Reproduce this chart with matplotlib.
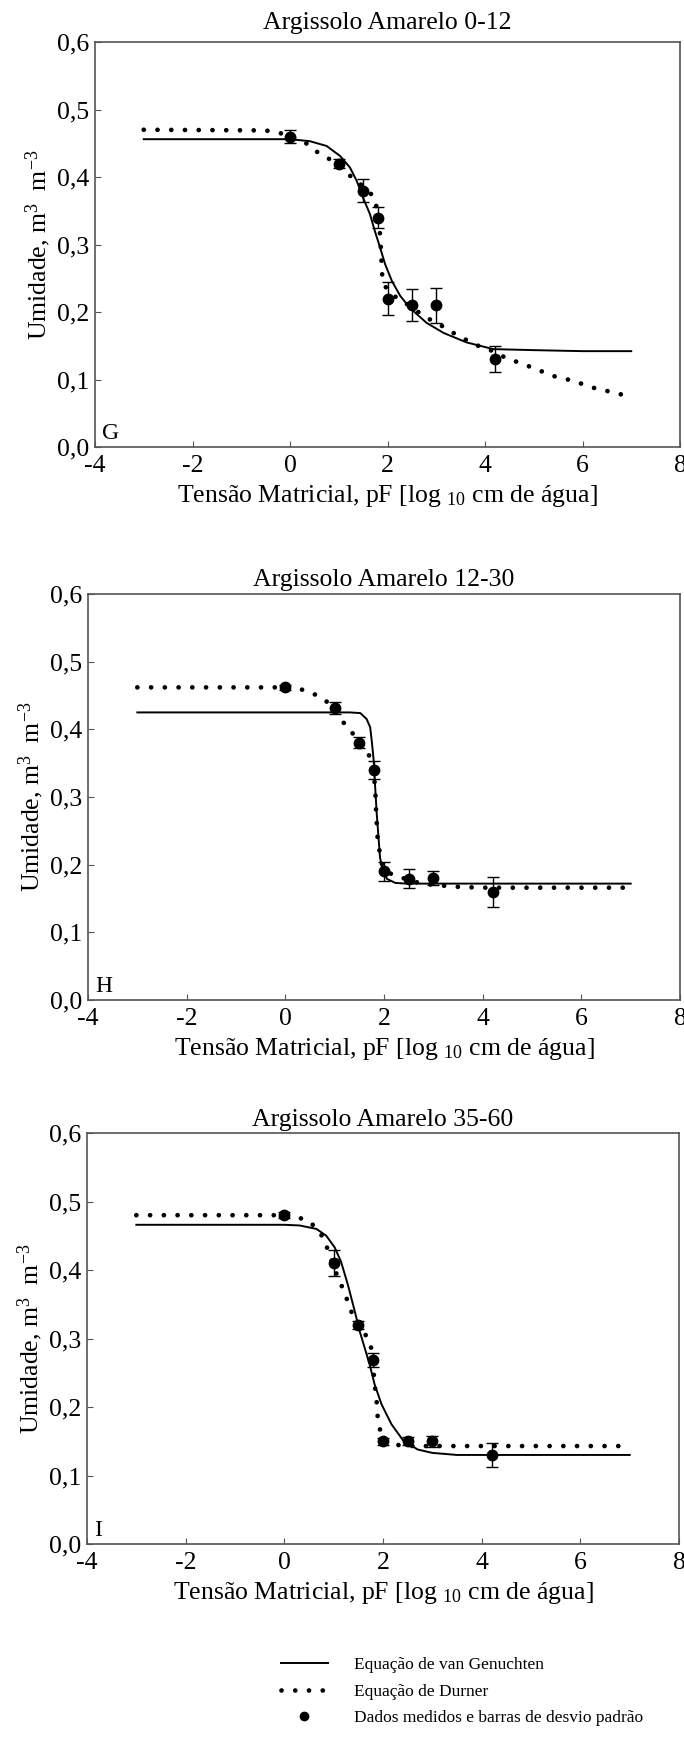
import numpy as np
import matplotlib
matplotlib.use("Agg")
import matplotlib.pyplot as plt
from matplotlib.lines import Line2D
from matplotlib.ticker import FuncFormatter

plt.rcParams['font.family'] = ['Liberation Serif', 'DejaVu Serif']
plt.rcParams['mathtext.fontset'] = 'custom'
plt.rcParams['mathtext.rm'] = 'Liberation Serif'
plt.rcParams['mathtext.it'] = 'Liberation Serif:italic'

# measured data (pF, theta, sd)
pf_meas = [0, 1, 1.5, 1.8, 2, 2.5, 3, 4.2]

g_theta = [0.46, 0.42, 0.38, 0.34, 0.22, 0.21, 0.21, 0.13]
g_sd = [0.009, 0.006, 0.017, 0.016, 0.024, 0.024, 0.026, 0.019]
h_theta = [0.462, 0.432, 0.38, 0.34, 0.19, 0.179, 0.18, 0.16]
h_sd = [0.004, 0.009, 0.008, 0.0135, 0.0145, 0.014, 0.010, 0.022]
i_theta = [0.48, 0.41, 0.32, 0.269, 0.15, 0.15, 0.15, 0.13]
i_sd = [0.004, 0.019, 0.006, 0.010, 0.005, 0.006, 0.008, 0.017]

# fitted curves
g_vg_x = [-3, 0, 0.41, 0.75, 1.03, 1.23, 1.37, 1.5, 1.64, 1.74, 1.85, 1.95, 2.09,
          2.26, 2.46, 2.8, 3.15, 3.62, 4.17, 5, 6, 7]
g_vg_y = [0.456, 0.456, 0.453, 0.446, 0.431, 0.414, 0.394, 0.369, 0.345, 0.32, 0.295,
          0.271, 0.246, 0.224, 0.206, 0.184, 0.169, 0.155, 0.145, 0.1435, 0.142, 0.142]
g_du_x = [-3, -0.5, -0.2, 0.17, 0.38, 0.56, 0.75, 0.99, 1.16, 1.37, 1.55, 1.74, 1.81,
          1.85, 1.87, 1.89, 1.92, 2.07, 2.28, 2.46, 2.67, 2.87, 3.08, 3.28, 3.47, 3.66,
          3.86, 4.07, 4.43, 4.85, 5.41, 5.81, 6.21, 6.62, 6.9]
g_du_y = [0.470, 0.469, 0.465, 0.456, 0.448, 0.437, 0.429, 0.419, 0.406, 0.394, 0.383,
          0.369, 0.340, 0.313, 0.285, 0.256, 0.241, 0.227, 0.217, 0.209, 0.198, 0.189,
          0.181, 0.172, 0.164, 0.157, 0.150, 0.145, 0.132, 0.121, 0.105, 0.098, 0.088,
          0.081, 0.076]

h_vg_x = [-3, 1.31, 1.52, 1.65, 1.72, 1.75, 1.79, 1.82, 1.85, 1.89, 1.92, 1.98, 2.06,
          2.23, 2.46, 7]
h_vg_y = [0.425, 0.425, 0.424, 0.415, 0.403, 0.384, 0.355, 0.316, 0.278, 0.239, 0.21,
          0.19, 0.179, 0.173, 0.172, 0.172]
h_du_x = [-3, 0, 0.27, 0.47, 0.67, 0.88, 1.18, 1.33, 1.5, 1.64, 1.75, 1.82, 1.84, 1.87,
          1.92, 1.96, 2.06, 2.26, 2.66, 3.0, 3.54, 4.0, 7]
h_du_y = [0.462, 0.462, 0.460, 0.456, 0.449, 0.439, 0.410, 0.397, 0.382, 0.368, 0.355,
          0.316, 0.278, 0.239, 0.215, 0.201, 0.189, 0.183, 0.174, 0.170, 0.167, 0.166,
          0.166]

i_vg_x = [-3, 0, 0.31, 0.65, 0.85, 1.02, 1.15, 1.29, 1.43, 1.53, 1.63, 1.73, 1.83, 1.97,
          2.17, 2.4, 2.7, 3.0, 3.5, 7]
i_vg_y = [0.466, 0.466, 0.465, 0.460, 0.450, 0.433, 0.412, 0.378, 0.339, 0.310, 0.286,
          0.262, 0.233, 0.204, 0.175, 0.152, 0.138, 0.133, 0.130, 0.130]
i_du_x = [-3, 0, 0.31, 0.51, 0.68, 0.82, 0.88, 1.09, 1.18, 1.26, 1.39, 1.51, 1.66, 1.75,
          1.79, 1.83, 1.87, 1.9, 2.0, 2.2, 2.6, 7]
i_du_y = [0.48, 0.48, 0.476, 0.471, 0.458, 0.444, 0.429, 0.388, 0.374, 0.359, 0.333,
          0.317, 0.304, 0.291, 0.269, 0.233, 0.209, 0.177, 0.152, 0.145, 0.143, 0.143]

titles = ["Argissolo Amarelo 0-12", "Argissolo Amarelo 12-30", "Argissolo Amarelo 35-60"]
letters = ["G", "H", "I"]
legend_labels = ["Equação de van Genuchten", "Equação de Durner",
                 "Dados medidos e barras de desvio padrão"]

panels = [
    (g_vg_x, g_vg_y, g_du_x, g_du_y, g_theta, g_sd),
    (h_vg_x, h_vg_y, h_du_x, h_du_y, h_theta, h_sd),
    (i_vg_x, i_vg_y, i_du_x, i_du_y, i_theta, i_sd),
]

W, H = 684, 1743
fig = plt.figure(figsize=(W / 100, H / 100), dpi=100)

# axes boxes in pixels: left, top, right, bottom
boxes = [(95, 42, 680, 447), (88, 594, 680, 1000), (87, 1133, 679, 1544)]
title_pads = [9, 6, 5]

dot_style = (0, (0.01, 2.9))
fs = 18.5

for (vx, vy, dx, dy, th, sd), box, title, letter, tpad in zip(panels, boxes, titles,
                                                              letters, title_pads):
    l, t, r, b = box
    ax = fig.add_axes([l / W, 1 - b / H, (r - l) / W, (b - t) / H])
    ax.plot(vx, vy, color='black', lw=1.4)
    ax.plot(dx, dy, color='black', lw=3.4, linestyle=dot_style, dash_capstyle='round')
    ax.errorbar(pf_meas, th, yerr=sd, fmt='o', color='black', ms=7.5,
                capsize=4.5, elinewidth=1, capthick=1)
    ax.set_xlim(-4, 8)
    ax.set_ylim(0, 0.6)
    ax.set_xticks(np.arange(-4, 9, 2))
    ax.set_yticks(np.arange(0, 0.61, 0.1))
    ax.yaxis.set_major_formatter(FuncFormatter(lambda v, p: f"{v:.1f}".replace('.', ',')))
    ax.xaxis.set_major_formatter(FuncFormatter(lambda v, p: f"{v:.0f}"))
    ax.tick_params(direction='in', length=4, labelsize=fs, color='#555555')
    ax.tick_params(axis='x', pad=6)
    ax.tick_params(axis='y', pad=4)
    for s in ax.spines.values():
        s.set_color('#555555')
        s.set_linewidth(1.2)
    ax.set_title(title, fontsize=fs, pad=tpad)
    ax.set_xlabel("Tensão Matricial, pF [log $_{10}$ cm de água]", fontsize=fs, labelpad=4)
    ax.set_ylabel("Umidade, m$^{3}$  m$^{-3}$", fontsize=fs, labelpad=3)
    ax.text(0.012, 0.008, letter, transform=ax.transAxes, fontsize=fs - 1.5,
            ha='left', va='bottom')

handles = [
    Line2D([], [], color='black', lw=1.4),
    Line2D([], [], color='black', lw=3.4, linestyle=dot_style, dash_capstyle='round'),
    Line2D([], [], color='black', marker='o', ms=6, linestyle='none'),
]
fig.legend(handles, legend_labels, loc='upper left',
           bbox_to_anchor=(281 / W, 1 - 1657 / H), frameon=False, fontsize=12.5,
           handlelength=2.7, handletextpad=1.5, labelspacing=0.6,
           borderpad=0, borderaxespad=0)

fig.savefig("out.png", dpi=100)
